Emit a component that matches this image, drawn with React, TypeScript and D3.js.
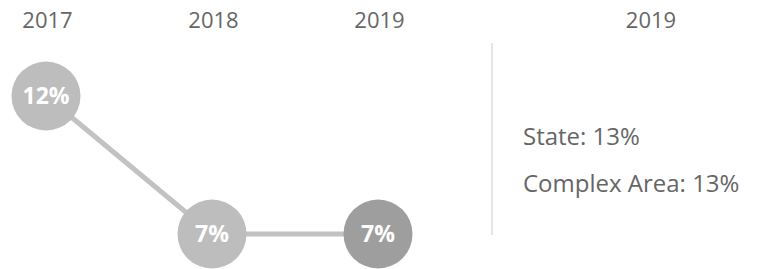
import React from 'react';
import * as d3 from 'd3';

const years = ['2017', '2018', '2019'];
const values = [12, 7, 7];
const currentYear = '2019';
const legendItems = ['State: 13%', 'Complex Area: 13%'];

const W = 761;
const H = 269;

const App = () => {
  const x = d3.scalePoint<string>().domain(years).range([46, 378]);
  const y = d3
    .scaleLinear()
    .domain([d3.min(values) as number, d3.max(values) as number])
    .range([234, 96]);

  const pts = years.map((yr, i) => ({ yr, v: values[i] }));
  const line = d3
    .line<{ yr: string; v: number }>()
    .x(d => x(d.yr) as number)
    .y(d => y(d.v));

  const font = "'Open Sans', sans-serif";

  return (
    <svg
      width={W}
      height={H}
      style={{ position: 'absolute', left: 0, top: 0, fontFamily: font }}
    >
      {/* year headers */}
      {years.map(yr => (
        <text key={yr} x={(x(yr) as number) + 1.5} y={28} textAnchor="middle" fontSize={22} fill="#666">
          {yr}
        </text>
      ))}

      <path d={line(pts) || ''} fill="none" stroke="#c2c2c2" strokeWidth={5} />

      {pts.map(d => (
        <g key={d.yr} transform={`translate(${x(d.yr)},${y(d.v)})`}>
          <circle r={34.5} fill={d.yr === currentYear ? '#9e9e9e' : '#bdbdbd'} />
          <text
            textAnchor="middle"
            dy="0.36em"
            fontSize={23}
            fontWeight="bold"
            fill="#fff"
          >
            {d.v}%
          </text>
        </g>
      ))}

      {/* divider + comparison panel */}
      <line x1={492} x2={492} y1={43} y2={235} stroke="#dddddd" strokeWidth={1.5} />
      <text x={651} y={28} textAnchor="middle" fontSize={22} fill="#666">
        {currentYear}
      </text>
      {legendItems.map((t, i) => (
        <text key={t} x={523} y={145 + i * 47} fontSize={24} fill="#666">
          {t}
        </text>
      ))}
    </svg>
  );
};

export default App;
